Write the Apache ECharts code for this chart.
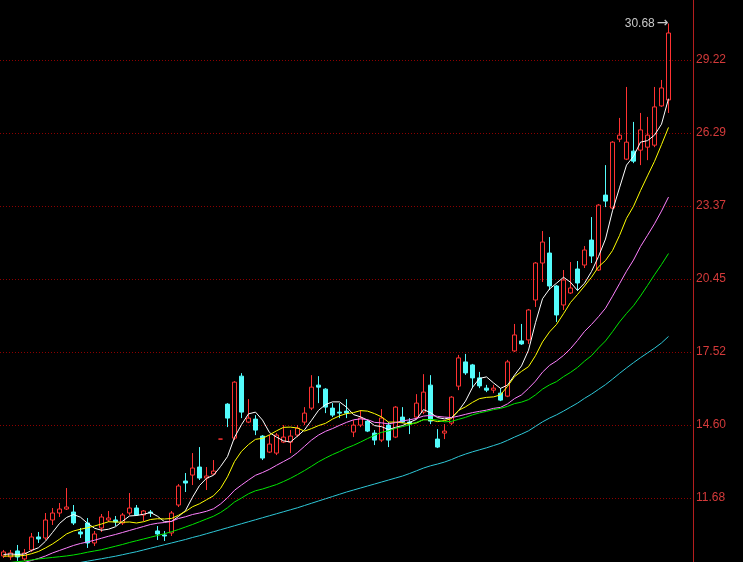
<!DOCTYPE html>
<html><head><meta charset="utf-8">
<script src="https://cdn.jsdelivr.net/npm/echarts@6/dist/echarts.min.js"></script>
<style>html,body{margin:0;padding:0;background:#000;}#c{width:743px;height:562px;}</style>
</head><body><div id="c"></div>
<script>
// 96 trading days plus 3 empty slots on the right
const categories = ['1','2','3','4','5','6','7','8','9','10','11','12','13','14','15','16','17','18','19','20',
'21','22','23','24','25','26','27','28','29','30','31','32','33','34','35','36','37','38','39','40',
'41','42','43','44','45','46','47','48','49','50','51','52','53','54','55','56','57','58','59','60',
'61','62','63','64','65','66','67','68','69','70','71','72','73','74','75','76','77','78','79','80',
'81','82','83','84','85','86','87','88','89','90','91','92','93','94','95','96','','',''];

const opens = [9.36,9.32,9.56,9.24,9.60,10.12,10.08,10.80,11.08,11.24,
11.12,10.32,10.68,9.88,10.48,10.80,10.80,10.68,11.08,11.28,
11.00,11.12,10.36,10.20,10.28,11.40,12.36,12.60,12.92,12.48,
12.64,14.04,15.44,14.08,16.56,14.72,14.84,14.16,13.52,13.48,
13.92,13.92,14.20,14.72,15.28,16.20,16.04,15.28,15.12,15.16,
14.32,14.60,14.76,14.28,14.00,14.60,14.12,14.92,14.72,14.92,
15.12,16.20,14.04,14.28,14.68,16.16,17.13,17.01,16.49,16.08,
16.00,15.88,15.76,17.57,17.97,18.01,19.61,21.09,21.49,20.17,
19.41,19.89,20.85,21.01,22.01,20.81,23.81,23.29,26.05,25.25,
25.57,25.61,25.73,25.81,27.38,27.62];
const closes = [9.52,9.48,9.32,9.48,10.12,10.04,10.80,11.08,11.24,11.32,
10.68,10.24,9.88,10.24,10.92,10.88,10.72,11.00,11.28,11.00,
11.16,11.08,10.24,10.16,11.08,12.16,12.28,12.88,12.48,12.56,
12.76,14.04,14.88,16.32,15.12,14.88,14.40,13.28,13.84,14.20,
14.12,14.16,14.48,15.08,16.12,16.12,15.32,15.00,15.08,15.08,
14.60,14.88,14.36,14.00,14.88,14.00,15.32,14.72,14.64,15.48,
15.92,14.76,13.72,14.36,15.72,17.29,16.69,16.49,16.17,16.00,
16.08,15.60,17.13,18.21,17.85,19.21,21.09,21.93,20.17,19.01,
20.41,20.09,20.29,21.61,21.37,23.41,23.57,25.93,26.21,25.93,
25.17,26.42,26.21,27.34,28.10,30.30];
const lows = [9.28,9.20,9.16,9.16,9.52,9.88,10.00,10.60,10.92,11.20,
10.60,10.08,9.68,9.76,10.32,10.72,10.56,10.60,11.00,10.96,
10.76,10.92,10.00,9.96,10.16,11.32,11.92,12.20,12.40,12.00,
12.60,14.04,14.52,14.00,14.88,14.68,14.20,13.20,13.48,13.40,
13.88,13.48,14.12,14.60,15.20,15.48,15.08,14.92,14.88,14.88,
14.12,14.52,14.32,13.80,13.92,13.72,14.08,14.68,14.24,14.84,
15.04,14.64,13.68,14.04,14.60,16.00,16.61,16.08,16.08,15.92,
15.88,15.56,15.72,17.53,17.81,17.85,19.33,20.33,20.01,18.73,
19.21,19.85,19.97,20.89,21.09,20.77,23.33,23.25,25.93,25.21,
25.09,25.01,25.21,25.73,27.34,27.10];
const highs = [9.60,9.60,9.80,9.64,10.28,10.32,11.08,11.28,11.48,12.08,
11.40,10.48,10.88,10.36,11.04,11.16,10.96,11.08,11.88,11.40,
11.20,11.20,10.56,10.36,11.16,12.24,12.68,13.48,13.72,12.92,
13.20,14.04,15.48,16.36,16.68,15.64,15.00,14.20,14.20,14.28,
14.60,14.40,14.60,15.32,16.60,16.56,16.08,15.48,15.48,15.64,
14.80,15.20,14.80,14.40,15.24,14.72,15.36,15.32,14.88,15.84,
16.64,16.60,14.44,14.64,15.76,17.41,17.45,17.05,16.73,16.21,
16.21,16.08,17.21,18.65,18.65,19.25,21.13,22.37,22.13,20.21,
20.81,21.13,21.17,21.77,22.93,23.45,25.01,25.97,26.90,28.14,
26.74,27.10,26.94,28.14,28.42,30.68];

const ma5 = [9.42,9.44,9.42,9.44,9.58,9.69,9.95,10.30,10.66,10.90,
11.02,10.91,10.67,10.47,10.39,10.43,10.53,10.75,10.96,10.98,
11.03,11.10,10.95,10.73,10.74,10.94,11.18,11.71,12.18,12.47,
12.59,12.94,13.34,14.11,14.62,15.05,15.12,14.80,14.30,14.12,
13.97,13.92,14.16,14.41,14.79,15.19,15.42,15.53,15.53,15.32,
15.02,14.93,14.80,14.58,14.54,14.42,14.51,14.58,14.71,14.83,
15.22,15.10,14.90,14.85,14.90,15.17,15.56,16.11,16.47,16.53,
16.29,16.07,16.20,16.60,16.97,17.60,18.70,19.66,20.05,20.28,
20.52,20.32,19.99,20.28,20.75,21.35,22.05,23.18,24.10,25.01,
25.36,25.93,25.99,26.21,26.65,27.67];
const ma10 = [9.35,9.36,9.36,9.38,9.45,9.54,9.68,9.84,10.03,10.24,
10.36,10.43,10.49,10.56,10.64,10.73,10.72,10.71,10.72,10.68,
10.73,10.82,10.85,10.84,10.86,10.99,11.14,11.33,11.45,11.61,
11.77,12.06,12.53,13.14,13.55,13.82,14.03,14.07,14.21,14.37,
14.51,14.52,14.48,14.36,14.46,14.58,14.67,14.84,14.97,15.06,
15.10,15.18,15.16,15.06,14.93,14.72,14.72,14.69,14.65,14.69,
14.82,14.81,14.74,14.78,14.86,15.19,15.33,15.51,15.66,15.71,
15.73,15.81,16.15,16.54,16.75,16.94,17.38,17.93,18.33,18.63,
19.06,19.51,19.83,20.17,20.52,20.94,21.19,21.59,22.19,22.88,
23.36,23.99,24.58,25.16,25.83,26.52];
const ma20 = [8.98,9.02,9.06,9.10,9.18,9.26,9.36,9.48,9.58,9.68,
9.78,9.86,9.92,9.99,10.07,10.15,10.22,10.30,10.38,10.46,
10.54,10.62,10.67,10.70,10.75,10.86,10.93,11.02,11.08,11.15,
11.25,11.44,11.69,11.99,12.20,12.40,12.59,12.70,12.83,12.99,
13.14,13.29,13.50,13.75,14.00,14.20,14.35,14.46,14.59,14.71,
14.81,14.85,14.82,14.71,14.69,14.65,14.70,14.77,14.81,14.87,
14.96,14.99,14.95,14.92,14.90,14.96,15.03,15.10,15.15,15.20,
15.27,15.31,15.45,15.66,15.81,16.07,16.36,16.72,16.99,17.17,
17.39,17.66,17.99,18.35,18.63,18.94,19.28,19.76,20.26,20.76,
21.21,21.75,22.20,22.66,23.17,23.73];
const ma30 = [9.08,9.10,9.13,9.16,9.20,9.24,9.27,9.30,9.33,9.36,
9.40,9.45,9.51,9.56,9.61,9.68,9.75,9.82,9.90,9.97,
10.04,10.11,10.18,10.25,10.33,10.42,10.52,10.62,10.73,10.84,
10.95,11.10,11.29,11.52,11.68,11.85,11.97,12.04,12.13,12.22,
12.34,12.47,12.62,12.78,12.95,13.13,13.28,13.42,13.54,13.68,
13.79,13.92,14.06,14.19,14.31,14.37,14.47,14.54,14.61,14.71,
14.81,14.83,14.80,14.73,14.75,14.83,14.91,15.01,15.09,15.15,
15.22,15.27,15.35,15.46,15.52,15.62,15.81,16.04,16.21,16.34,
16.54,16.71,16.91,17.16,17.38,17.69,17.97,18.34,18.73,19.07,
19.38,19.77,20.19,20.62,21.03,21.47];
const ma60 = [8.55,8.60,8.65,8.70,8.75,8.80,8.85,8.90,8.95,9.00,
9.05,9.10,9.15,9.20,9.25,9.30,9.35,9.41,9.47,9.53,
9.60,9.67,9.74,9.81,9.88,9.95,10.02,10.10,10.17,10.25,
10.33,10.41,10.49,10.57,10.65,10.73,10.81,10.89,10.97,11.05,
11.13,11.21,11.29,11.38,11.47,11.56,11.65,11.74,11.83,11.92,
12.00,12.08,12.16,12.24,12.32,12.40,12.48,12.56,12.66,12.77,
12.88,12.97,13.04,13.12,13.22,13.34,13.44,13.53,13.61,13.69,
13.78,13.87,13.99,14.12,14.24,14.37,14.55,14.73,14.88,15.01,
15.16,15.32,15.48,15.67,15.84,16.03,16.22,16.44,16.67,16.89,
17.10,17.30,17.49,17.68,17.89,18.15];

const yTicks = [11.68, 14.60, 17.52, 20.45, 23.37, 26.29, 29.22];

const kData = opens.map((o, i) => [o, closes[i], lows[i], highs[i]]);

function maSeries(name, data, color) {
  return {
    name: name, type: 'line', data: data, showSymbol: false, symbol: 'none',
    smooth: false, clip: true, silent: true,
    lineStyle: { color: color, width: 1 }, z: 3
  };
}

const chart = echarts.init(document.getElementById('c'), null, { renderer: 'canvas' });
chart.setOption({
  animation: false,
  backgroundColor: '#000000',
  grid: { left: 0, right: 50, top: 0, bottom: 0, containLabel: false, outerBoundsMode: 'none' },
  xAxis: {
    type: 'category', data: categories, boundaryGap: true,
    axisLine: { show: false }, axisTick: { show: false }, axisLabel: { show: false },
    splitLine: { show: false }
  },
  yAxis: {
    type: 'value', position: 'right', min: 9.118, max: 31.622, scale: true,
    axisLine: { show: true, lineStyle: { color: '#b41e1e', width: 1 } },
    axisTick: { show: false, customValues: yTicks },
    axisLabel: {
      customValues: yTicks, color: '#d43a3a', fontSize: 12,
      fontFamily: 'Liberation Sans, Arial, sans-serif', margin: 3,
      formatter: v => v.toFixed(2)
    },
    splitLine: { show: true, lineStyle: { color: '#8c0000', width: 1, type: [1, 2] } }
  },
  series: [
    {
      name: 'K', type: 'candlestick', data: kData, barWidth: 5, z: 2,
      itemStyle: {
        color: 'transparent', color0: '#54FCFC',
        borderColor: '#FF3232', borderColor0: '#54FCFC', borderWidth: 1
      },
      markPoint: {
        symbol: 'circle', symbolSize: 0, silent: true,
        data: [{ type: 'max', valueDim: 'highest' }],
        label: {
          show: true, position: 'left', distance: 0,
          formatter: p => '{v|' + Number(p.value).toFixed(2) + '}{a|\u2192}',
          rich: {
            v: { color: '#c8c8c8', fontSize: 12, fontFamily: 'Liberation Sans, Arial, sans-serif', padding: [0, 2, 0, 0] },
            a: { color: '#c8c8c8', fontSize: 14, fontFamily: 'DejaVu Sans', padding: [0, 0, 1, 0] }
          }
        }
      }
    },
    maSeries('MA5', ma5, '#ffffff'),
    maSeries('MA10', ma10, '#ffff00'),
    maSeries('MA20', ma20, '#ff80ff'),
    maSeries('MA30', ma30, '#00e600'),
    maSeries('MA60', ma60, '#2ec8d8')
  ]
});
</script>
</body></html>
